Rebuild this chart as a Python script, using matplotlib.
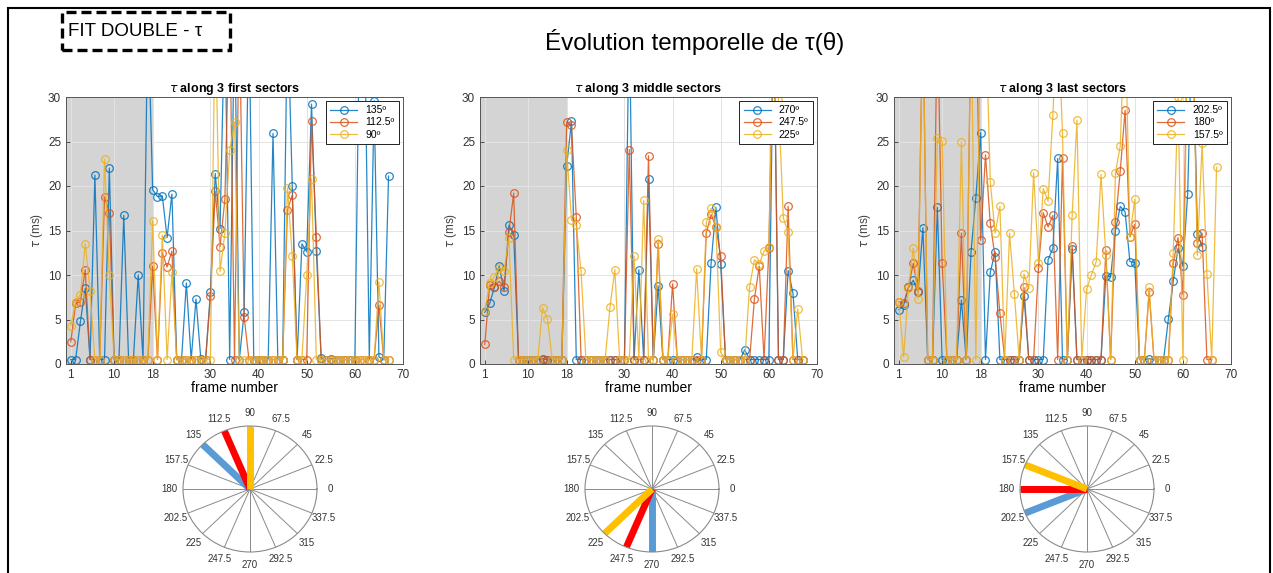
import numpy as np
import matplotlib.pyplot as plt
from matplotlib.patches import Rectangle

# frame numbers
frames = np.arange(1, 68)

# panel 1 : first sectors
p1_labels = ['135º', '112.5º', '90º']
p1_s1 = [0.5, 0.5, 4.8, 8.5, 0.5, 21.2, 0.5, 0.5, 22, 0.5,
         0.5, 16.7, 0.5, 0.5, 10, 0.5, 40, 19.6, 18.8, 18.9,
         14.2, 19.1, 0.5, 0.5, 9.1, 0.5, 7.3, 0.6, 0.5, 8.1,
         21.4, 15.2, 40, 0.5, 40, 0.5, 5.8, 40, 0.5, 0.5,
         0.5, 0.5, 25.9, 0.5, 0.5, 40, 20, 0.5, 13.5, 12.6,
         29.2, 12.7, 0.7, 0.5, 0.6, 0.5, 0.5, 0.5, 0.5, 0.5,
         40, 40, 0.5, 29.6, 0.8, 0.5, 21.1]
p1_s2 = [2.5, 6.8, 7.0, 10.6, 0.5, 0.5, 0.5, 18.8, 17.0, 0.5,
         0.5, 0.5, 0.5, 0.5, 0.5, 0.5, 0.5, 11.0, 0.5, 12.5,
         10.9, 12.7, 0.5, 0.5, 0.5, 0.5, 0.5, 0.5, 0.5, 7.6,
         19.4, 13.2, 18.5, 40, 0.5, 40, 5.3, 0.5, 0.5, 0.5,
         0.5, 0.5, 0.5, 0.5, 0.5, 17.3, 19.0, 0.5, 0.5, 0.5,
         27.3, 14.3, 0.5, 0.5, 0.5, 0.5, 0.5, 0.5, 0.5, 0.5,
         0.5, 0.5, 0.5, 0.5, 6.6, 0.5, 0.5]
p1_s3 = [4.3, 7.0, 7.8, 13.5, 8.2, 0.5, 0.5, 23.0, 10.0, 0.5,
         0.5, 0.5, 0.5, 0.5, 0.5, 0.5, 0.5, 16.1, 0.5, 14.5,
         0.5, 10.3, 0.5, 0.5, 0.5, 0.5, 0.5, 0.5, 0.5, 0.5,
         40, 10.4, 14.7, 24.0, 27.2, 0.5, 0.5, 0.5, 0.5, 0.5,
         0.5, 0.5, 0.5, 0.5, 0.5, 19.8, 12.1, 0.5, 0.5, 10.0,
         20.8, 0.5, 0.5, 0.5, 0.5, 0.5, 0.5, 0.5, 0.5, 0.5,
         0.5, 0.5, 0.5, 0.5, 9.2, 0.5, 0.5]

# panel 2 : middle sectors
p2_labels = ['270º', '247.5º', '225º']
p2_s1 = [5.8, 6.8, 8.6, 11.0, 8.2, 15.6, 14.5, 0.5, 0.5, 0.5,
         0.5, 0.5, 0.6, 0.5, 0.5, 0.5, 0.5, 22.2, 27.3, 0.5,
         0.5, 0.5, 0.5, 0.5, 0.5, 0.5, 0.5, 0.5, 0.5, 0.5,
         40, 0.5, 10.6, 0.5, 20.8, 0.5, 8.8, 0.5, 0.5, 0.5,
         0.5, 0.5, 0.5, 0.5, 0.8, 0.5, 0.5, 11.3, 17.6, 11.2,
         0.5, 0.5, 0.5, 0.5, 1.6, 0.5, 0.5, 0.5, 0.5, 0.5,
         40, 0.5, 0.5, 10.5, 8.0, 0.5, 0.5]
p2_s2 = [2.2, 8.9, 8.7, 9.3, 8.6, 14.8, 19.2, 0.5, 0.5, 0.5,
         0.5, 0.5, 0.5, 0.5, 0.5, 0.5, 0.5, 27.2, 26.8, 16.5,
         0.5, 0.5, 0.5, 0.5, 0.5, 0.5, 0.5, 0.5, 0.5, 0.5,
         24.1, 0.5, 0.5, 0.5, 23.4, 0.5, 13.5, 0.5, 0.5, 9.0,
         0.5, 0.5, 0.5, 0.5, 0.5, 0.5, 14.7, 16.8, 15.4, 12.1,
         0.5, 0.5, 0.5, 0.5, 0.5, 0.5, 7.3, 11.0, 0.5, 13.0,
         40, 0.5, 0.5, 17.7, 0.5, 0.5, 0.5]
p2_s3 = [6.0, 9.1, 9.8, 10.8, 10.5, 14.2, 0.5, 0.5, 0.5, 0.5,
         0.5, 0.5, 6.3, 5.1, 0.5, 0.5, 0.5, 24.1, 16.2, 15.6,
         10.4, 0.5, 0.5, 0.5, 0.5, 0.5, 6.4, 10.6, 0.5, 0.5,
         0.5, 12.1, 0.5, 18.4, 0.5, 0.5, 14.0, 0.5, 0.5, 5.6,
         0.5, 0.5, 0.5, 0.5, 10.7, 0.5, 15.9, 17.5, 15.4, 1.3,
         0.5, 0.5, 0.5, 0.5, 0.5, 8.7, 11.7, 11.2, 12.7, 13.2,
         40, 29.7, 16.4, 14.8, 0.5, 6.2, 0.5]

# panel 3 : last sectors
p3_labels = ['202.5º', '180º', '157.5º']
p3_s1 = [6.1, 6.6, 8.6, 9.4, 8.1, 15.3, 0.5, 0.5, 17.6, 0.5,
         0.5, 0.5, 0.5, 7.2, 0.5, 12.6, 18.7, 26.0, 0.5, 10.3,
         12.6, 0.5, 0.5, 0.5, 0.5, 0.5, 7.6, 0.5, 0.5, 0.5,
         0.5, 11.7, 13.0, 23.1, 0.5, 0.5, 12.9, 0.5, 0.5, 0.5,
         0.5, 0.5, 0.5, 9.9, 9.8, 15.0, 17.7, 17.1, 11.5, 11.4,
         0.5, 0.5, 0.6, 0.5, 0.5, 0.5, 5.1, 9.3, 13.0, 11.0,
         19.1, 40, 14.6, 13.2, np.nan, np.nan, np.nan]
p3_s2 = [7.0, 6.8, 8.6, 11.3, 8.2, 40, 0.5, 0.5, 40, 11.3,
         0.5, 0.5, 0.5, 14.7, 0.5, 40, 40, 13.9, 23.5, 15.8,
         12.0, 5.7, 0.5, 0.5, 0.5, 0.5, 8.6, 0.5, 0.5, 10.8,
         17.0, 15.4, 16.7, 0.5, 23.1, 0.5, 13.3, 0.5, 0.5, 0.5,
         0.5, 0.5, 0.5, 12.8, 0.5, 16.0, 21.7, 28.5, 14.3, 15.7,
         0.5, 0.5, 8.1, 0.5, 0.5, 0.5, 0.5, 11.3, 14.2, 7.8,
         40, 40, 13.6, 14.7, 0.5, 0.5, np.nan]
p3_s3 = [7.0, 0.8, 8.5, 13.0, 7.3, 40, 0.5, 0.5, 25.4, 25.1,
         0.5, 0.5, 0.5, 24.9, 0.5, 40, 0.5, 40, 40, 20.5,
         14.7, 17.7, 0.5, 14.7, 7.9, 0.5, 10.1, 8.5, 21.5, 11.4,
         19.7, 18.3, 28.0, 40, 25.9, 0.5, 16.7, 27.4, 0.5, 8.4,
         10.0, 11.5, 21.3, 12.2, 0.5, 21.5, 24.5, 40, 14.3, 18.5,
         0.5, 0.5, 8.6, 0.5, 0.5, 0.5, 0.5, 12.5, 30.0, 0.5,
         40, 40, 12.2, 24.8, 10.1, 0.5, 22.1]

titles = [r'$\tau$ along 3 first sectors', r'$\tau$ along 3 middle sectors',
          r'$\tau$ along 3 last sectors']
sector_angles = [[135, 112.5, 90], [270, 247.5, 225], [202.5, 180, 157.5]]

line_colors = ['#0072BD', '#D95319', '#EDB120']
sector_colors = ['#5B9BD5', '#FF0000', '#FFC000']

W, H = 1273, 573
fig = plt.figure(figsize=(W / 100, H / 100), dpi=100)
plt.rcParams['font.family'] = ['Liberation Sans', 'DejaVu Sans']

def fx(px):
    return px / W

def fy(py):
    return 1 - py / H

# outer frame and header
fig.patches.append(Rectangle((fx(8), -0.05), fx(1262), fy(8) + 0.05, transform=fig.transFigure,
                             fill=False, edgecolor='black', lw=1.5))
fig.patches.append(Rectangle((fx(62), fy(50)), fx(168), 38 / H, transform=fig.transFigure,
                             fill=False, edgecolor='black', lw=2.4, linestyle=(0, (3, 1.5))))
fig.text(fx(68), fy(32), 'FIT DOUBLE - τ', fontsize=13.5, va='center', ha='left')
fig.text(fx(695), fy(42), 'Évolution temporelle de τ(θ)', fontsize=17.5, va='center', ha='center')

panels = [(p1_s1, p1_s2, p1_s3, p1_labels),
          (p2_s1, p2_s2, p2_s3, p2_labels),
          (p3_s1, p3_s2, p3_s3, p3_labels)]
ax_left = [66, 480, 894]
polar_cx = [250, 652, 1087]
polar_cy = 489

for i, (s1, s2, s3, labels) in enumerate(panels):
    ax = fig.add_axes([fx(ax_left[i]), fy(364), fx(337), 267 / H])
    ax.axvspan(0, 18, color='#d4d4d4', zorder=0.3, lw=0)
    for s, c, lab in zip([s1, s2, s3], line_colors, labels):
        ax.plot(frames, s, '-o', color=c, lw=0.9, ms=5.5, mfc='none', mew=0.9,
                alpha=0.85, label=lab)
    ax.set_xlim(0, 70)
    ax.set_ylim(0, 30)
    ax.set_xticks([1, 10, 18, 30, 40, 50, 60, 70])
    ax.set_yticks(range(0, 31, 5))
    ax.grid(True, color='#e3e3e3', lw=0.7)
    ax.set_axisbelow(True)
    ax.tick_params(direction='in', labelsize=8.5, length=3, width=0.6, colors='#333333')
    for sp in ax.spines.values():
        sp.set_color('#555555')
        sp.set_linewidth(0.7)
    ax.set_title(titles[i], fontsize=9, fontweight='bold', pad=3)
    ax.set_xlabel('frame number', fontsize=10, labelpad=0)
    ax.set_ylabel(r'$\tau$ (ms)', fontsize=8.5, labelpad=2, color='#444444')
    leg = ax.legend(loc='upper right', fontsize=7.5, fancybox=False, framealpha=1,
                    edgecolor='#222222', handlelength=2.6, borderaxespad=0.4,
                    labelspacing=0.2)
    leg.get_frame().set_linewidth(0.7)

    # polar sector map
    pax = fig.add_axes([fx(polar_cx[i] - 67), fy(polar_cy + 63), fx(134), 126 / H],
                       projection='polar')
    pax.set_aspect('auto')
    grid_angles = np.arange(0, 360, 22.5)
    pax.set_thetagrids(grid_angles, ['%g' % a for a in grid_angles])
    pax.set_yticks([])
    pax.set_ylim(0, 1)
    pax.grid(True, axis='x', color='#8a8a8a', lw=0.7)
    pax.spines['polar'].set_color('#8a8a8a')
    pax.spines['polar'].set_linewidth(0.8)
    pax.tick_params(axis='x', labelsize=7, pad=-1, colors='#333333')
    for ang, c in zip(sector_angles[i], sector_colors):
        th = np.deg2rad(ang)
        pax.plot([th, th], [0, 1], color=c, lw=5, solid_capstyle='butt')

fig.savefig('out.png', dpi=100)
